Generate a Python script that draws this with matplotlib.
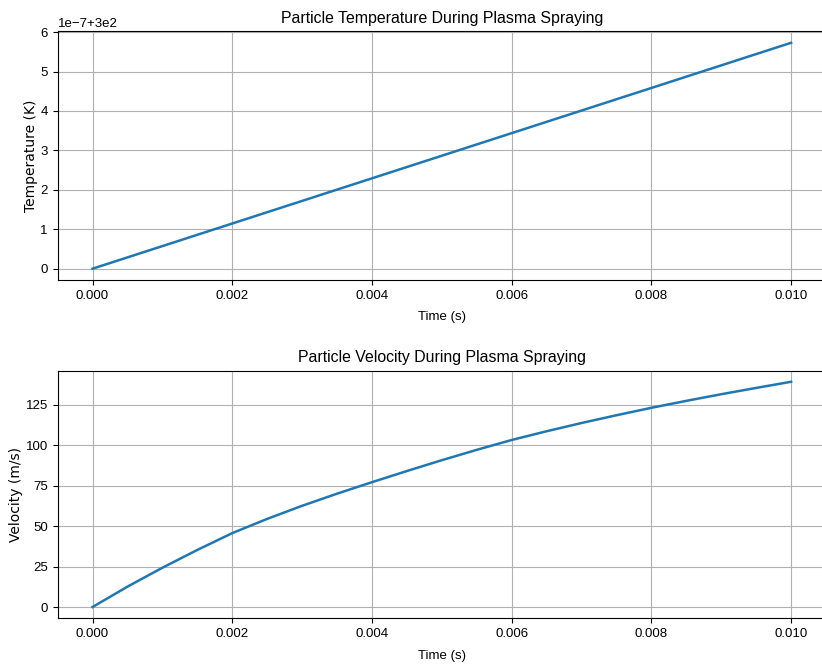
import matplotlib
matplotlib.use("Agg")
import matplotlib.pyplot as plt
import matplotlib.ticker

# Time samples (s)
time_s = [0.0000, 0.0005, 0.0010, 0.0015, 0.0020, 0.0025, 0.0030, 0.0035,
          0.0040, 0.0045, 0.0050, 0.0055, 0.0060, 0.0065, 0.0070, 0.0075,
          0.0080, 0.0085, 0.0090, 0.0095, 0.0100]

# Temperature: offset 300 K, deltas read in units of 1e-7 K
temp_base = 300.0
temp_delta_e7 = [0.000, 0.287, 0.573, 0.860, 1.146, 1.433, 1.719, 2.006,
                 2.292, 2.579, 2.865, 3.152, 3.438, 3.725, 4.011, 4.298,
                 4.584, 4.871, 5.157, 5.444, 5.730]

# Velocity (m/s)
velocity = [0.0, 12.6, 24.3, 35.3, 45.7, 54.5, 62.6, 70.1,
            77.2, 84.1, 90.8, 97.2, 103.3, 108.7, 113.8, 118.6,
            123.2, 127.5, 131.6, 135.5, 139.3]

temperature = [temp_base + d * 1e-7 for d in temp_delta_e7]

plt.rcParams["font.family"] = ["Liberation Sans", "DejaVu Sans"]

fig = plt.figure(figsize=(8.22, 6.70), dpi=100)
ax1 = fig.add_axes([0.0701, 0.5821, 0.9348, 0.3709])
ax2 = fig.add_axes([0.0701, 0.0772, 0.9348, 0.3698])

ax1.plot(time_s, temperature, color="#1f77b4", linewidth=1.8)
ax1.set_title("Particle Temperature During Plasma Spraying", fontsize=11.4)
ax1.set_xlabel("Time (s)", fontsize=9.5, labelpad=7)
ax1.set_ylabel("Temperature (K)", family="DejaVu Sans", fontsize=10, labelpad=2)
ax1.grid(True)

ax2.plot(time_s, velocity, color="#1f77b4", linewidth=1.8)
ax2.set_title("Particle Velocity During Plasma Spraying", fontsize=11.4)
ax2.set_xlabel("Time (s)", fontsize=9.5, labelpad=7)
ax2.set_ylabel("Velocity (m/s)", family="DejaVu Sans", fontsize=10, labelpad=2)
ax2.yaxis.set_major_locator(matplotlib.ticker.MultipleLocator(25))
ax2.grid(True)

for ax in (ax1, ax2):
    ax.set_xticks([0.000, 0.002, 0.004, 0.006, 0.008, 0.010])
    ax.xaxis.set_major_formatter(matplotlib.ticker.FormatStrFormatter("%.3f"))
    ax.tick_params(labelsize=9.5)
    ax.yaxis.get_offset_text().set_fontsize(9.5)

fig.savefig("out.png", dpi=100)
